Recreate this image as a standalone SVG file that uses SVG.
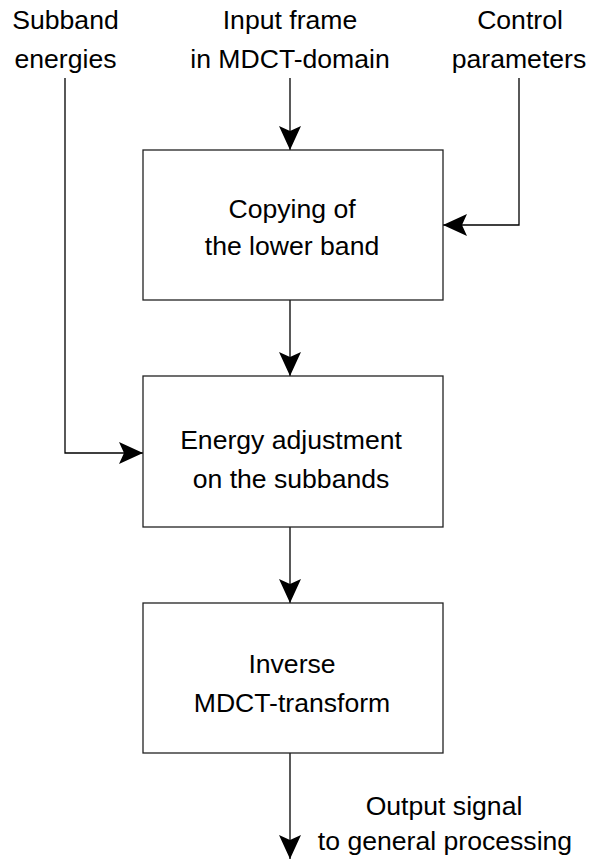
<svg xmlns="http://www.w3.org/2000/svg" width="589" height="861" viewBox="0 0 589 861">
<style>
.box{fill:#fff;stroke:#222;stroke-width:1.3}
.ln{fill:none;stroke:#000;stroke-width:1.3}
text{font-family:"Liberation Sans",Arial,sans-serif;font-size:26.6px;fill:#000;text-anchor:middle}
</style>
<defs>
<marker id="ah" viewBox="0 0 24 22" refX="24" refY="11" markerWidth="24" markerHeight="22" markerUnits="userSpaceOnUse" orient="auto">
<path d="M0,0 L24,11 L0,22 L5,11 Z" fill="#000"/>
</marker>
</defs>
<rect width="589" height="861" fill="#fff"/>
<g id="connectors">
<line class="ln" x1="290" y1="78" x2="290" y2="150" marker-end="url(#ah)"/>
<polyline class="ln" points="519,78 519,225 443,225" marker-end="url(#ah)"/>
<polyline class="ln" points="65,78 65,453 143,453" marker-end="url(#ah)"/>
<line class="ln" x1="290" y1="300" x2="290" y2="376" marker-end="url(#ah)"/>
<line class="ln" x1="290" y1="527" x2="290" y2="603" marker-end="url(#ah)"/>
<line class="ln" x1="290" y1="753" x2="290" y2="859" marker-end="url(#ah)"/>
</g>
<g id="label-subband">
<text x="65.5" y="29">Subband</text>
<text x="65.5" y="68">energies</text>
</g>
<g id="label-input">
<text x="290" y="29">Input frame</text>
<text x="290" y="68">in MDCT-domain</text>
</g>
<g id="label-control">
<text x="520" y="29">Control</text>
<text x="519" y="68">parameters</text>
</g>
<g id="box-copy">
<rect class="box" x="143" y="150" width="300" height="150"/>
<text x="292" y="218">Copying of</text>
<text x="292" y="255">the lower band</text>
</g>
<g id="box-energy">
<rect class="box" x="143" y="376" width="300" height="151"/>
<text x="291" y="449">Energy adjustment</text>
<text x="291" y="488">on the subbands</text>
</g>
<g id="box-inverse">
<rect class="box" x="143" y="603" width="300" height="150"/>
<text x="292" y="673">Inverse</text>
<text x="292" y="712">MDCT-transform</text>
</g>
<g id="label-output">
<text x="444" y="815">Output signal</text>
<text x="445" y="850">to general processing</text>
</g>
</svg>
